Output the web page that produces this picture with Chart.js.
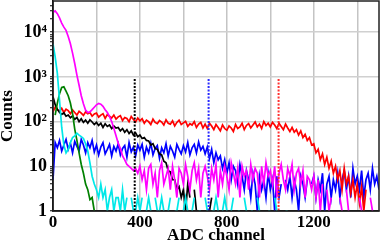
<!DOCTYPE html>
<html>
<head>
<meta charset="utf-8">
<script src="https://cdn.jsdelivr.net/npm/chart.js@4"></script>
<style>
html,body{margin:0;padding:0;background:#fff}
</style>
</head>
<body>
<canvas id="chart" width="392" height="242"></canvas>
<script>
// ADC channels, one value every 10 channels
const channels = [
0,10,20,30,40,50,60,70,80,90,
100,110,120,130,140,150,160,170,180,190,
200,210,220,230,240,250,260,270,280,290,
300,310,320,330,340,350,360,370,380,390,
400,410,420,430,440,450,460,470,480,490,
500,510,520,530,540,550,560,570,580,590,
600,610,620,630,640,650,660,670,680,690,
700,710,720,730,740,750,760,770,780,790,
800,810,820,830,840,850,860,870,880,890,
900,910,920,930,940,950,960,970,980,990,
1000,1010,1020,1030,1040,1050,1060,1070,1080,1090,
1100,1110,1120,1130,1140,1150,1160,1170,1180,1190,
1200,1210,1220,1230,1240,1250,1260,1270,1280,1290,
1300,1310,1320,1330,1340,1350,1360,1370,1380,1390,
1400,1410,1420,1430,1440,1450,1460,1470,1480,1490,
1500]

const redCounts = [
165,210,185,172,198,160,190,176,150,182,
160,140,170,155,138,166,150,160,132,148,
155,126,140,150,118,144,132,120,140,114,
128,136,106,124,118,100,130,112,98,120,
104,116,92,108,100,86,114,96,90,106,
98,84,110,92,88,104,80,96,108,86,
94,102,78,90,84,100,74,88,96,72,
88,70,92,80,66,86,74,62,84,70,
64,80,72,60,86,70,76,92,66,82,
90,72,84,98,76,88,70,100,82,92,
76,96,84,70,92,78,66,88,72,60,
74,58,66,50,62,44,52,38,44,30,
32,20,24,14,19,11,16,9,13,7,
10,5,8,3,9,4,6,2.5,5,2,
4,1.5,3.5,1,3,0,2,0,1,0,
null]

const blackCounts = [
360,240,190,160,145,158,132,140,122,135,
112,124,100,116,96,108,92,110,98,86,
96,82,92,74,90,78,84,70,80,72,
74,62,70,58,66,54,62,50,56,46,
50,42,44,38,37,30,32,25,24,19,
18,13,12,8,7.5,5,5,3,3.5,2,
3,1,4,2,0,3,1,0,2,0,
3,0,1,2,0,2,0,1,0,0,
1,0,null,null,null,null,null,null,null,null,
null,null,null,null,null,null,null,null,null,null,
null,null,null,null,null,null,null,null,null,null,
null,null,null,null,null,null,null,null,null,null,
null,null,null,null,null,null,null,null,null,null,
null,null,null,null,null,null,null,null,null,null,
null,null,null,null,null,null,null,null,null,null,
null]

const blueCounts = [
5,34,26,38,22,30,40,24,33,20,
36,28,22,40,30,20,34,26,38,21,
30,18,27,34,19,24,31,17,28,22,
32,18,25,29,16,34,21,27,17,30,
23,31,16,27,20,33,18,25,29,15,
26,20,32,17,28,22,16,31,24,19,
29,21,34,18,26,31,20,35,23,28,
19,27,15,24,12,20,14,17,9,14,
7,12,5,10,8,4,11,6,3,8,
5,2,7,4,1,6,3,5,2,7,
3,5,1,6,2,4,0,5,3,6,
2,5,3,1,6,4,2,5,0,4,
6,2,5,3,7,1,4,6,2,5,
3,7,2,5,8,3,6,2,9,4,
6,3,8,2,5,7,3,9,4,6,
3]

const greenCounts = [
0,140,260,420,580,600,480,380,260,150,
68,38,20,11,7,4,3,1.8,2,1,
0,1,0,0,1,0,0,0,1,0,
0,0,1,0,0,0,0,0,0,0,
0,0,0,0,0,0,1,0,0,0,
0,0,0,0,0,0,0,0,0,1,
0,0,0,0,0,0,0,0,null,null,
null,null,null,null,null,null,null,null,null,null,
null,null,null,null,null,null,null,null,null,null,
null,null,null,null,null,null,null,null,null,null,
null,null,null,null,null,null,null,null,null,null,
null,null,null,null,null,null,null,null,null,null,
null,null,null,null,null,null,null,null,null,null,
null,null,null,null,null,null,null,null,null,null,
null,null,null,null,null,null,null,null,null,null,
null]

const cyanCounts = [
5500,2800,1200,300,75,30,20,24,34,44,
48,55,50,46,42,32,22,12,6,4,
3,2,4,2,3,1,2,3,1,2,
2,1,3,1,2,0,2,1,1,2,
1,2,0,1,2,1,0,2,1,1,
2,1,0,1,2,0,1,1,2,0,
1,2,1,0,1,2,0,1,1,0,
2,1,0,1,1,2,1,0,1,2,
1,0,1,2,0,1,1,0,2,1,
0,1,1,0,2,1,0,1,0,1,
1,0,2,1,0,1,0,1,1,0,
0,1,0,1,0,0,1,0,1,0,
1,0,0,1,0,1,0,0,1,0,
0,1,null,null,null,null,null,null,null,null,
null,null,null,null,null,null,null,null,null,null,
null]

const magentaCounts = [
28000,30000,26000,21000,16000,13000,11000,8000,5500,3400,
2000,1100,650,380,250,180,160,165,185,210,
238,255,245,220,185,160,130,100,70,48,
33,25,17,14,11,10,9,8,9,7,
10,5,8,3,9,11,4,7,2,8,
12,4,6,9,3,10,5,2,9,7,
4,11,6,3,8,12,5,9,2,7,
10,6,3,9,5,11,2,8,4,10,
6,3,12,7,4,9,2,10,6,8,
3,11,5,9,7,2,10,4,12,6,
8,4,10,2,7,11,5,3,9,6,
11,3,7,9,4,8,2,6,5,3,
6,2,5,1,4,0,3,1,2,0,
3,0,2,1,0,3,1,0,2,0,
0,2,1,0,3,0,2,1,0,2,
0]

// dotted marker lines (channel) and their top count
const markerChannels = [376, 716, 1038]
const markerColors = ["#000000", "#2a2aff", "#ff3030"]
const markerTop = 900

const xTickLabels = [0, 400, 800, 1200]
const yMajorTicks = [1, 10, 100, 1000, 10000]
const yTickLabels = ["1", "10", "10²", "10³", "10⁴"]
const yMinorTicks = [2,3,4,5,6,7,8,9,20,30,40,50,60,70,80,90,200,300,400,500,600,700,800,900,
2000,3000,4000,5000,6000,7000,8000,9000,20000,30000,40000]

const serif = "'Liberation Serif', 'Times New Roman', serif"

// frame round the plot and the rotated y title
const frame = {
  id: "frame",
  afterDatasetsDraw(chart) {
    const {ctx, chartArea: a} = chart
    ctx.save()
    ctx.strokeStyle = "#222"
    ctx.lineWidth = 1.5
    ctx.strokeRect(a.left, a.top, a.right - a.left, a.bottom - a.top)
    ctx.restore()
  },
  afterDraw(chart) {
    const {ctx, chartArea: a} = chart
    ctx.save()
    ctx.translate(8, (a.top + a.bottom) / 2 + 10)
    ctx.rotate(-Math.PI / 2)
    ctx.fillStyle = "#000"
    ctx.font = "bold 17px " + serif
    ctx.textAlign = "center"
    ctx.textBaseline = "middle"
    ctx.fillText("Counts", 0, 0)
    ctx.restore()
  }
}

const series = (data, color) => ({
  data: data,
  borderColor: color,
  borderWidth: 1.7,
  pointRadius: 0,
  fill: false,
  tension: 0
})

const markers = markerChannels.map((c, i) => ({
  data: [{x: c, y: markerTop}, {x: c, y: 1}],
  borderColor: markerColors[i],
  borderWidth: 2,
  borderDash: [2, 1.5],
  pointRadius: 0
}))

new Chart(document.getElementById("chart"), {
  type: "line",
  data: {
    labels: channels,
    datasets: [
      ...markers,
      series(magentaCounts, "#ff00ff"),
      series(cyanCounts, "#00e8e8"),
      series(greenCounts, "#008000"),
      series(blackCounts, "#000000"),
      series(redCounts, "#ff0000"),
      series(blueCounts, "#0000ff")
    ]
  },
  options: {
    responsive: false,
    animation: false,
    layout: {padding: {top: 1, right: 13, left: 0, bottom: 0}},
    plugins: {legend: {display: false}, tooltip: {enabled: false}},
    scales: {
      x: {
        type: "linear",
        min: 0,
        max: 1500,
        ticks: {
          stepSize: 200,
          includeBounds: false,
          autoSkip: false,
          maxRotation: 0,
          padding: 1,
          color: "#000",
          font: {family: serif, weight: "bold", size: 17},
          callback: v => xTickLabels.includes(v) ? String(v) : ""
        },
        grid: {color: "#c4c4c4", lineWidth: 1.5, drawTicks: false},
        border: {color: "#000", width: 1.5},
        title: {display: true, text: "ADC channel", color: "#000", padding: 0,
          font: {family: serif, weight: "bold", size: 17, lineHeight: 0.8}},
        afterFit: s => { s.height = 31 }
      },
      y: {
        type: "logarithmic",
        min: 1,
        max: 50000,
        afterBuildTicks: s => {
          s.ticks = yMajorTicks.concat(yMinorTicks).sort((a, b) => a - b).map(v => ({value: v}))
        },
        ticks: {
          autoSkip: false,
          padding: 3,
          color: "#000",
          font: {family: serif, weight: "bold", size: 18},
          callback: v => {
            const i = yMajorTicks.indexOf(v)
            return i >= 0 ? yTickLabels[i] : ""
          }
        },
        grid: {
          color: c => c.tick && yMajorTicks.includes(c.tick.value) ? "#d0d0d0" : "rgba(0,0,0,0)",
          lineWidth: 1.5,
          tickLength: 3,
          tickColor: "#000",
          tickWidth: 1
        },
        border: {color: "#000", width: 1.5},
        afterFit: s => {
          s.width = 53
          s.paddingTop = 0
          s.paddingBottom = 0
        }
      }
    }
  },
  plugins: [frame]
})
</script>
</body>
</html>
